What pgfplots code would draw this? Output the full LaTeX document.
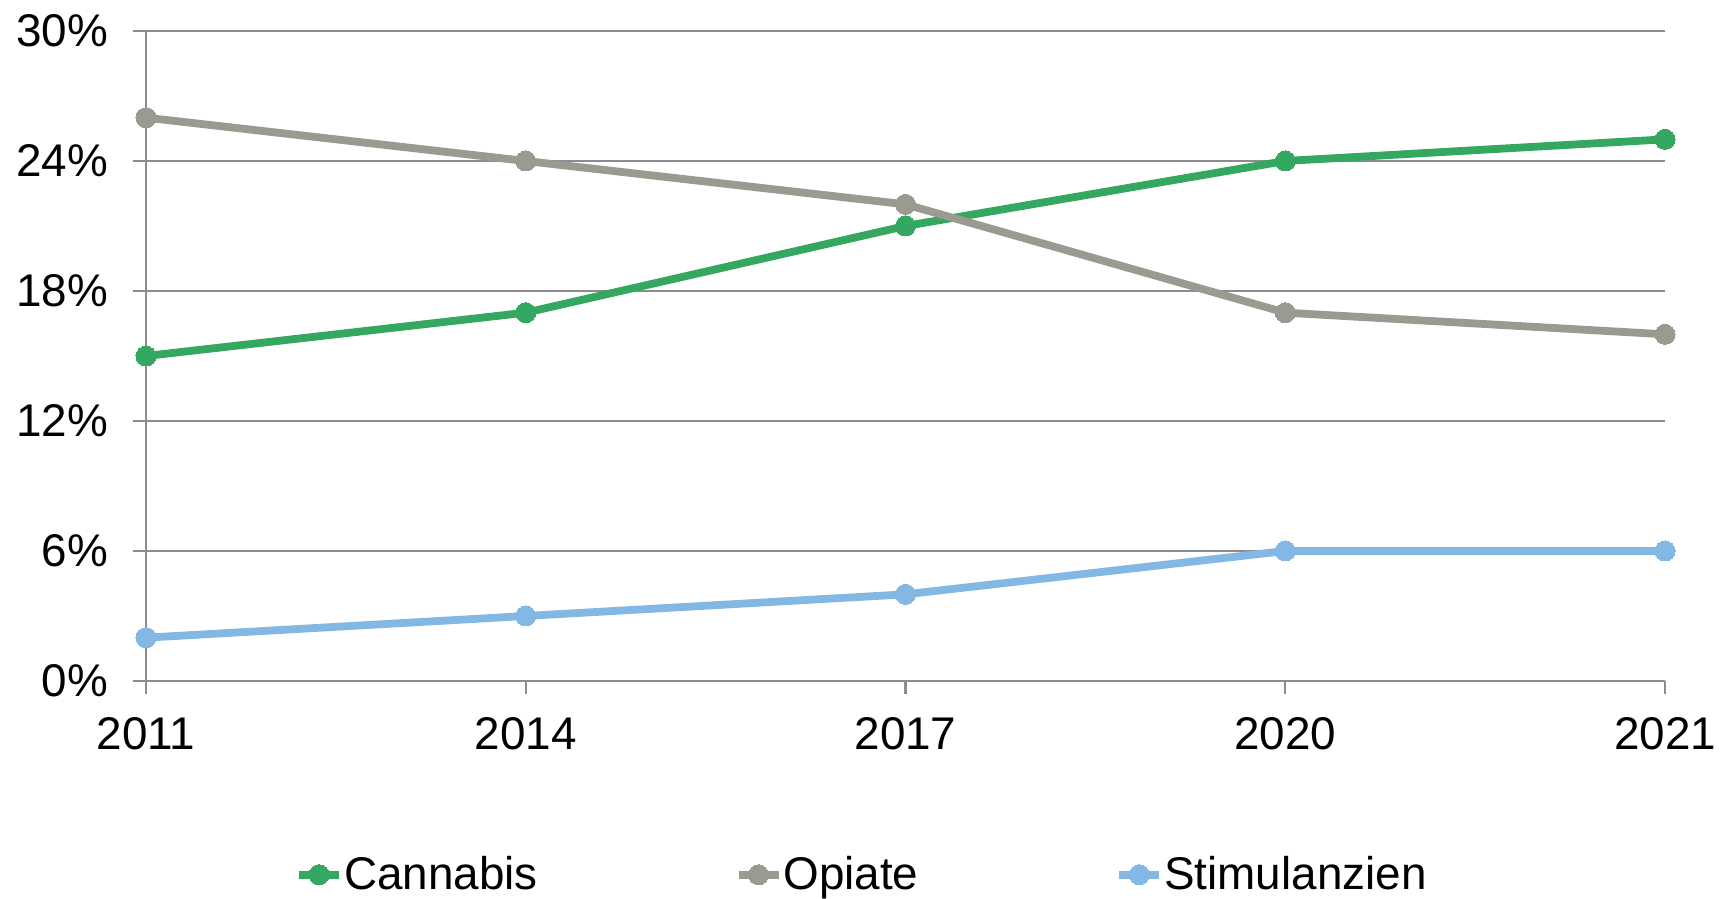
\documentclass[border=0pt]{standalone}
\usepackage{pgfplots}
\pgfplotsset{compat=1.18}
\usepackage{fontspec}
\setmainfont{Liberation Sans}

\definecolor{cannabis}{RGB}{52,168,96}
\definecolor{opiate}{RGB}{154,154,144}
\definecolor{stimul}{RGB}{132,184,228}
\definecolor{gridgray}{RGB}{140,140,140}

\begin{document}
\begin{tikzpicture}
\useasboundingbox (0,0) rectangle (862bp,449.5bp);
\begin{axis}[
  at={(73bp,109bp)}, anchor=south west,
  scale only axis,
  width=759.5bp, height=325bp,
  xmin=0, xmax=4, ymin=0, ymax=30,
  xtick={0,1,2,3,4},
  xticklabels={2011,2014,2017,2020,2021},
  ytick={0,6,12,18,24,30},
  yticklabel={\pgfmathprintnumber{\tick}\%},
  /pgf/number format/assume math mode=true,
  ticklabel style={font=\fontsize{23}{27}\selectfont},
  xticklabel style={yshift=-8bp},
  yticklabel style={xshift=-9bp},
  axis lines=left,
  axis line style={-, draw=gridgray, line width=1.2bp},
  tick align=outside,
  major tick length=6.5bp,
  tick style={draw=gridgray, line width=1.2bp},
  ymajorgrids,
  grid style={draw=gridgray, line width=1bp},
  clip=false,
  legend columns=3,
  legend style={
    at={(0.471,-0.298)}, anchor=center,
    draw=none, fill=none,
    font=\fontsize{23}{27}\selectfont,
    nodes={inner sep=0.5bp},
    /tikz/every even column/.append style={column sep=98bp},
  },
  legend image code/.code={
    \draw[mark repeat=2, mark phase=2, #1]
      plot coordinates {(0bp,0bp) (10bp,0bp) (20bp,0bp)};
  },
  every axis plot/.append style={line width=3.9bp, mark=*, mark size=5bp},
]
\addplot[color=cannabis, mark options={fill=cannabis, draw=cannabis, line width=0bp}]
  coordinates {(0,15) (1,17) (2,21) (3,24) (4,25)};
\addlegendentry{Cannabis}
\addplot[color=opiate, mark options={fill=opiate, draw=opiate, line width=0bp}]
  coordinates {(0,26) (1,24) (2,22) (3,17) (4,16)};
\addlegendentry{Opiate}
\addplot[color=stimul, mark options={fill=stimul, draw=stimul, line width=0bp}]
  coordinates {(0,2) (1,3) (2,4) (3,6) (4,6)};
\addlegendentry{Stimulanzien}
\end{axis}
\end{tikzpicture}
\end{document}
